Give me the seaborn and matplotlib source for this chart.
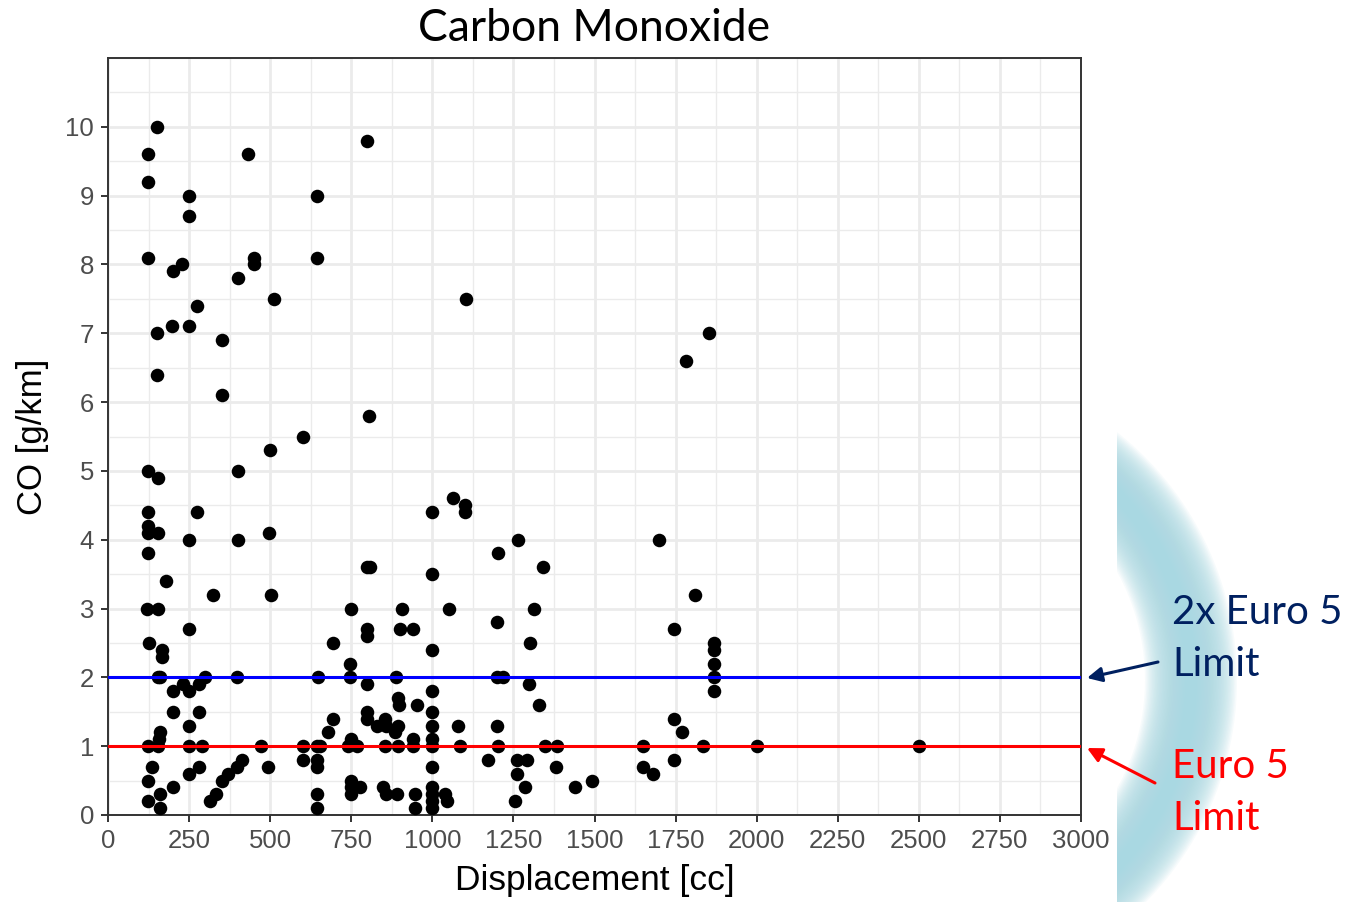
import numpy as np
import pandas as pd
import matplotlib
matplotlib.use("Agg")
import matplotlib.pyplot as plt
import seaborn as sns
from matplotlib.ticker import MultipleLocator

# ---------------- data ----------------
displacement = [
    151, 123, 431, 123, 250, 645, 250, 123, 450, 450, 645, 228, 200, 400, 512, 275, 151, 197, 250, 352,
    151, 352, 800, 1104, 805, 1782, 1853,
    601, 500, 123, 154, 400, 123, 275, 123, 123, 154, 250, 400, 496, 123, 179, 324, 502, 120, 154, 250,
    126, 165, 168,
    154, 160, 200, 231, 250, 281, 299, 398, 200, 281, 250, 159, 157, 123, 154, 250, 290, 136, 123, 159,
    123, 159, 200, 250, 281, 315, 333, 352, 370, 398, 413, 493, 472,
    999, 1065, 1100, 1100, 1264, 1203, 800, 808, 999, 749, 907, 1051, 1313, 1199, 798, 800, 900, 941,
    693, 1301, 999, 746, 648, 746, 888, 1199, 1218, 799, 1298, 999, 894, 896, 953, 999, 799, 799, 693,
    829, 854, 857, 885, 894, 999, 1079, 1199, 678, 749, 601, 645, 654, 740, 768, 854, 894, 941, 941,
    999, 999, 1085, 1202, 601, 645, 645, 999, 1172, 1261, 1292, 1261, 1286, 1255, 749, 749, 749, 777,
    848, 857, 891, 947, 947, 999, 999, 999, 999, 1039, 1045, 645, 645,
    1341, 1329, 1699, 1810, 1745, 1869, 1869, 1869, 1869, 1869, 1745, 1770, 1347, 1384, 1650, 1835,
    2000, 2500, 1381, 1440, 1492, 1650, 1680, 1745,
]
co_emission = [
    10.0, 9.6, 9.6, 9.2, 9.0, 9.0, 8.7, 8.1, 8.1, 8.0, 8.1, 8.0, 7.9, 7.8, 7.5, 7.4, 7.0, 7.1, 7.1, 6.9,
    6.4, 6.1, 9.8, 7.5, 5.8, 6.6, 7.0,
    5.5, 5.3, 5.0, 4.9, 5.0, 4.4, 4.4, 4.2, 4.1, 4.1, 4.0, 4.0, 4.1, 3.8, 3.4, 3.2, 3.2, 3.0, 3.0, 2.7,
    2.5, 2.4, 2.3,
    2.0, 2.0, 1.8, 1.9, 1.8, 1.9, 2.0, 2.0, 1.5, 1.5, 1.3, 1.2, 1.1, 1.0, 1.0, 1.0, 1.0, 0.7, 0.5, 0.3,
    0.2, 0.1, 0.4, 0.6, 0.7, 0.2, 0.3, 0.5, 0.6, 0.7, 0.8, 0.7, 1.0,
    4.4, 4.6, 4.5, 4.4, 4.0, 3.8, 3.6, 3.6, 3.5, 3.0, 3.0, 3.0, 3.0, 2.8, 2.7, 2.6, 2.7, 2.7,
    2.5, 2.5, 2.4, 2.2, 2.0, 2.0, 2.0, 2.0, 2.0, 1.9, 1.9, 1.8, 1.7, 1.6, 1.6, 1.5, 1.5, 1.4, 1.4,
    1.3, 1.4, 1.3, 1.2, 1.3, 1.3, 1.3, 1.3, 1.2, 1.1, 1.0, 1.0, 1.0, 1.0, 1.0, 1.0, 1.0, 1.0, 1.1,
    1.1, 1.0, 1.0, 1.0, 0.8, 0.8, 0.7, 0.7, 0.8, 0.8, 0.8, 0.6, 0.4, 0.2, 0.5, 0.4, 0.3, 0.4,
    0.4, 0.3, 0.3, 0.3, 0.1, 0.4, 0.3, 0.2, 0.1, 0.3, 0.2, 0.3, 0.1,
    3.6, 1.6, 4.0, 3.2, 2.7, 2.5, 2.4, 2.2, 2.0, 1.8, 1.4, 1.2, 1.0, 1.0, 1.0, 1.0,
    1.0, 1.0, 0.7, 0.4, 0.5, 0.7, 0.6, 0.8,
]
limit_values = [2.0, 1.0]
limit_labels = ["2x Euro 5\nLimit", "Euro 5\nLimit"]
limit_colors = ["#0000ff", "#ff0000"]
label_colors = ["#002060", "#ff0000"]
x_ticks = list(range(0, 3001, 250))
y_ticks = list(range(0, 11))

df = pd.DataFrame({"Displacement [cc]": displacement, "CO [g/km]": co_emission})

# ---------------- figure ----------------
W, H = 1355, 902
sns.set_theme(style="whitegrid")
plt.rcParams["font.family"] = ["Liberation Sans", "DejaVu Sans"]

fig = plt.figure(figsize=(W / 100, H / 100), dpi=100)
ax = fig.add_axes([108 / W, (H - 815) / H, (1081 - 108) / W, (815 - 58) / H])
ax.set_facecolor("white")

sns.scatterplot(data=df, x="Displacement [cc]", y="CO [g/km]", color="black",
                s=95, linewidth=0, ax=ax, zorder=3)

for val, col in zip(limit_values, limit_colors):
    ax.axhline(val, color=col, lw=2.2, zorder=4)

ax.set_xlim(0, 3000)
ax.set_ylim(0, 11)
ax.set_xticks(x_ticks)
ax.set_yticks(y_ticks)
ax.xaxis.set_minor_locator(MultipleLocator(125))
ax.yaxis.set_minor_locator(MultipleLocator(0.5))
ax.grid(which="major", color="#ebebeb", lw=2.0, zorder=0)
ax.grid(which="minor", color="#ebebeb", lw=1.0, zorder=0)
ax.set_axisbelow(True)
for sp in ax.spines.values():
    sp.set_color("#333333")
    sp.set_linewidth(1.4)
ax.tick_params(which="major", length=5, width=1.4, color="#333333",
               labelsize=18.5, labelcolor="#4d4d4d", pad=5, bottom=True, left=True)
ax.tick_params(which="minor", length=0)
ax.set_xlabel("Displacement [cc]", fontsize=25.5, color="black", labelpad=8)
ax.set_ylabel("CO [g/km]", fontsize=25, color="black", labelpad=12)
ax.set_title("Carbon Monoxide", fontsize=32, family=["Lato", "DejaVu Sans"],
             color="black", pad=12)

# ---------------- decorative glow crescent ----------------
gx0, gy0 = 1117, 380
gax = fig.add_axes([gx0 / W, 0, (W - gx0) / W, (H - gy0) / H], zorder=-1)
gax.set_xlim(gx0, W)
gax.set_ylim(H, gy0)
gax.axis("off")
cx, cy, R = 921, 680, 270
theta = np.linspace(-np.pi / 2, np.pi / 2, 500)
for wpx in np.linspace(92, 8, 30):
    gax.plot(cx + R * np.cos(theta), cy + R * np.sin(theta),
             color="#a9d8e2", lw=wpx * 0.72, alpha=0.09, solid_capstyle="butt")

# ---------------- annotations ----------------
ann_font = ["Lato", "DejaVu Sans"]
fig.text(1172 / W, (H - 612) / H, limit_labels[0].split("\n")[0], color=label_colors[0],
         fontsize=29, family=ann_font, ha="left", va="center")
fig.text(1172 / W, (H - 665) / H, limit_labels[0].split("\n")[1], color=label_colors[0],
         fontsize=29, family=ann_font, ha="left", va="center")
fig.text(1172 / W, (H - 767) / H, limit_labels[1].split("\n")[0], color=label_colors[1],
         fontsize=29, family=ann_font, ha="left", va="center")
fig.text(1172 / W, (H - 818) / H, limit_labels[1].split("\n")[1], color=label_colors[1],
         fontsize=29, family=ann_font, ha="left", va="center")

ax.annotate("", xy=(1087, H - 678), xycoords="figure pixels",
            xytext=(1158, H - 662), textcoords="figure pixels",
            arrowprops=dict(arrowstyle="-|>", color=label_colors[0], lw=2.2,
                            mutation_scale=22, shrinkA=0, shrinkB=0))
ax.annotate("", xy=(1087, H - 748), xycoords="figure pixels",
            xytext=(1155, H - 783), textcoords="figure pixels",
            arrowprops=dict(arrowstyle="-|>", color=label_colors[1], lw=2.2,
                            mutation_scale=22, shrinkA=0, shrinkB=0))

fig.savefig("out.png", dpi=100, facecolor="white")
